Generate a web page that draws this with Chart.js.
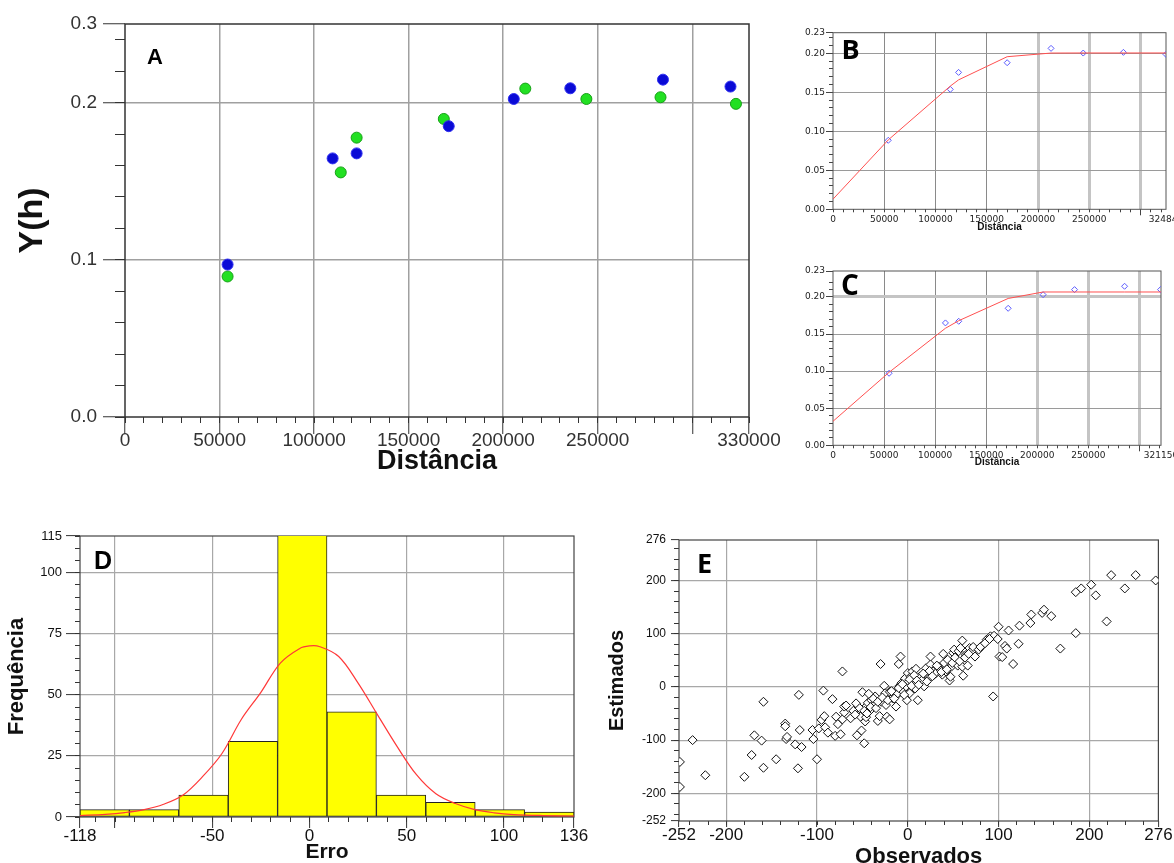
<!DOCTYPE html>
<html>
<head>
<meta charset="utf-8">
<script src="https://cdn.jsdelivr.net/npm/chart.js@4.4.1/dist/chart.umd.min.js"></script>
<style>
  body { margin: 0; background: #fff; }
  #pagina { position: relative; width: 1174px; height: 863px; overflow: hidden; background: #fff; }
  canvas { position: absolute; }
</style>
</head>
<body>
<div id="pagina">
  <canvas id="chartA" width="780" height="482" style="left:0px;top:0px"></canvas>
  <canvas id="chartB" width="394" height="214" style="left:780px;top:20px"></canvas>
  <canvas id="chartC" width="394" height="212" style="left:780px;top:258px"></canvas>
  <canvas id="chartD" width="592" height="343" style="left:0px;top:520px"></canvas>
  <canvas id="chartE" width="574" height="350" style="left:600px;top:520px"></canvas>
</div>
<script>
// ---- Painel A: semivariogramas experimentais
const distA_azul = [54250, 109800, 122500, 171200, 205600, 235500, 284500, 320200];
const gamaA_azul = [0.097, 0.1645, 0.1677, 0.185, 0.2023, 0.2091, 0.2146, 0.2102];
const distA_verde = [54250, 114100, 122500, 168600, 211700, 244000, 283200, 323100];
const gamaA_verde = [0.0894, 0.1556, 0.1777, 0.1896, 0.2089, 0.2023, 0.2034, 0.1992];
const ticksAx = [0, 50000, 100000, 150000, 200000, 250000, 300000, 330000];
const rotulosAx = ['0', '50000', '100000', '150000', '200000', '250000', '', '330000'];
const ticksAy = [0, 0.1, 0.2, 0.25];
const rotulosAy = ['0.0', '0.1', '0.2', '0.3'];

// ---- Painel B: experimental + modelo ajustado
const distB = [53900, 114400, 122500, 169900, 212700, 244100, 283300, 324840];
const gamaB = [0.0885, 0.1538, 0.1756, 0.188, 0.2064, 0.2004, 0.2013, 0.1987];
const distModeloB = [0, 53900, 114400, 122500, 169900, 212700, 244100, 283300, 324840];
const gamaModeloB = [0.013, 0.089, 0.158, 0.166, 0.1957, 0.2004, 0.2005, 0.2005, 0.2005];
const ticksBx = [0, 50000, 100000, 150000, 200000, 250000, 300000, 324840];
const rotulosBx = ['0', '50000', '100000', '150000', '200000', '250000', '', '324840'];
const ticksBy = [0, 0.05, 0.10, 0.15, 0.20, 0.2265];
const rotulosBy = ['0.00', '0.05', '0.10', '0.15', '0.20', '0.23'];

// ---- Painel C
const distC = [54900, 110100, 123100, 171500, 205700, 236500, 285500, 320700];
const gamaC = [0.0971, 0.165, 0.1672, 0.1847, 0.2031, 0.2099, 0.2144, 0.2099];
const distModeloC = [0, 54900, 110100, 123100, 171500, 205700, 236500, 285500, 321150];
const gamaModeloC = [0.0324, 0.0984, 0.1578, 0.168, 0.198, 0.2067, 0.2067, 0.2067, 0.2067];
const ticksCx = [0, 50000, 100000, 150000, 200000, 250000, 300000, 321150];
const rotulosCx = ['0', '50000', '100000', '150000', '200000', '250000', '', '321150'];
const ticksCy = [0, 0.05, 0.10, 0.15, 0.20, 0.235];
const rotulosCy = ['0.00', '0.05', '0.10', '0.15', '0.20', '0.23'];

// ---- Painel D: histograma dos erros (10 classes de -118 a 136)
const centrosD = [-105.3, -79.9, -54.5, -29.1, -3.7, 21.7, 47.1, 72.5, 97.9, 123.3];
const freqD = [3, 3, 9, 31, 118, 43, 9, 6, 3, 2];
const curvaDx = [-118, -105, -95, -85, -75, -65, -55, -45, -35, -25, -15, -5, 0, 5, 15, 25, 35, 45, 55, 65, 75, 85, 95, 105, 120, 136];
const curvaDy = [0.6, 1.1, 1.8, 3.0, 5.2, 9.0, 16.5, 26, 40, 51, 63, 69, 70, 69.8, 65.7, 54.8, 41.8, 28.9, 17.3, 9.5, 5.5, 3.0, 1.7, 1.0, 0.6, 0.4];
const ticksDx = [-118, -100, -50, 0, 50, 100, 136];
const rotulosDx = ['-118', '', '-50', '0', '50', '100', '136'];
const ticksDy = [0, 25, 50, 75, 100, 115];
const rotulosDy = ['0', '25', '50', '75', '100', '115'];

// ---- Painel E: observados x estimados
const obsE = [-251, -251, -237, -223, -180, -172, -169, -161, -159, -159, -145, -135, -135, -134, -133, -124, -121, -120, -119, -117,
  -105, -104, -100, -98, -95, -93, -92, -91, -88, -83, -80, -79, -77, -74, -72, -72, -70, -70, -68, -63,
  -57, -56, -55, -52, -51, -50, -48, -47, -46, -46, -44, -43, -42, -40, -37, -36, -33, -31, -30, -29,
  -26, -25, -24, -23, -20, -20, -17, -13, -13, -11, -10, -9, -8, -7, -7, -5, -3, -2, -1, 0,
  1, 2, 3, 5, 6, 8, 9, 11, 13, 14, 16, 18, 20, 23, 25, 25, 28, 29, 31, 34,
  36, 38, 39, 40, 42, 44, 46, 47, 48, 50, 51, 53, 55, 56, 58, 60, 60, 61, 64, 66,
  68, 70, 72, 74, 78, 83, 87, 91, 94, 95, 99, 100, 101, 104, 107, 109, 111, 116, 122, 123,
  135, 136, 148, 150, 158, 168, 185, 185, 191, 202, 207, 219, 224, 239, 251, 273,
  -60, -58, -53, -48, -45, -41, -38, -35, -33, -28, -22, -18, -15, -10, -6, -4, 2, 4, 7, 10,
  12, 17, 21, 24, 27, 32, 37, 43, 49, 52, 57, 63, 67, 80, 85, 90];
const estE = [-141, -188, -100, -166, -169, -128, -91, -101, -28, -152, -136, -69, -74, -98, -94, -108, -153, -15, -81, -113,
  -81, -98, -136, -78, -62, -7, -55, -76, -86, -23, -92, -56, -70, -89, 29, -61, -48, -37, -35, -59,
  -31, -91, -48, -56, -82, -10, -106, -65, -57, -37, -30, -13, -45, -25, -32, -18, -64, -55, 43, -28,
  2, -12, -34, -56, -61, -9, -21, -17, -37, -12, 43, 2, 57, -6, 7, -9, 16, 1, -25, 26,
  10, -12, 19, 29, 7, -3, 34, -25, 19, 7, 13, 1, 35, 16, 42, 57, 29, 23, 26, 38,
  32, 23, 62, 45, 29, 51, 12, 19, 38, 64, 70, 45, 40, 67, 73, 38, 87, 21, 60, 40,
  73, 67, 75, 57, 70, 79, 89, 95, -18, 96, 90, 113, 57, 56, 77, 72, 106, 43, 81, 115,
  120, 136, 139, 145, 133, 72, 101, 178, 185, 192, 172, 123, 210, 185, 210, 200,
  -45, -52, -40, -45, -50, -38, -22, -40, -28, -20, -25, -8, -22, -2, 5, -15, 14, 2, 22, 12,
  4, 25, 10, 30, 20, 40, 28, 33, 45, 55, 48, 55, 62, 75, 82, 90];
const ticksE = [-252, -200, -100, 0, 100, 200, 276];
const rotulosE = ['-252', '-200', '-100', '0', '100', '200', '276'];

const SANS = "'Liberation Sans', Arial, sans-serif";
const CALIBRI = "'Open Sans', 'Liberation Sans', sans-serif";
const TRANSP = 'rgba(0,0,0,0)';

function pontos(xs, ys) {
    return xs.map((x, i) => ({ x: x, y: ys[i] }));
}

function faixa(a, b, passo) {
    const out = [];
    for (let v = a; v <= b + passo * 1e-6; v += passo) out.push(+v.toFixed(6));
    return out;
}

// eixo principal externo (rótulos, grade, título) + eixo interno de espessura zero (ticks menores)
function parDeEixos(o) {
    const horiz = o.position === 'bottom';
    const semPadding = s => { s.paddingLeft = 0; s.paddingRight = 0; s.paddingTop = 0; s.paddingBottom = 0; };
    const naGrade = c => c.tick && o.gridAt.includes(c.tick.value);
    const principal = {
        type: 'linear', position: o.position, min: o.min, max: o.max, weight: 1, offset: false,
        afterBuildTicks: s => { s.ticks = o.values.map(v => ({ value: v })); },
        afterFit: s => { if (horiz) s.height = o.size; else s.width = o.size; semPadding(s); },
        border: { display: false },
        grid: {
            offset: false, drawOnChartArea: true, drawTicks: true, tickLength: o.majorLen,
            color: c => naGrade(c) ? (o.gridColorAt ? o.gridColorAt(c.tick.value) : o.gridColor) : TRANSP,
            lineWidth: c => (naGrade(c) && o.gridWidthAt) ? o.gridWidthAt(c.tick.value) : o.gridWidth,
            tickColor: c => (o.allTicks || o.labels[c.index] === '') ? o.tickColor : TRANSP,
            tickWidth: 1
        },
        ticks: {
            autoSkip: false, maxRotation: 0, minRotation: 0, padding: o.pad,
            color: o.labelColor, font: o.font,
            callback: (v, i) => o.labels[i]
        },
        title: o.title
    };
    const menor = {
        type: 'linear', position: o.position, min: o.min, max: o.max, weight: 0, offset: false,
        afterBuildTicks: s => { s.ticks = o.minor.map(v => ({ value: v })); },
        afterFit: s => { if (horiz) s.height = 0; else s.width = 0; semPadding(s); },
        border: { display: false },
        grid: { offset: false, drawOnChartArea: false, drawTicks: true, tickLength: o.minorLen, tickColor: o.tickColor, tickWidth: 1 },
        ticks: { display: false, autoSkip: false }
    };
    return [principal, menor];
}

// moldura da área do gráfico e letra do painel
const moldura = {
    id: 'moldura',
    beforeDatasetsDraw(chart, args, opts) {
        const { ctx, chartArea: a } = chart;
        ctx.save();
        ctx.strokeStyle = opts.color;
        ctx.lineWidth = opts.width;
        ctx.strokeRect(a.left, a.top, a.right - a.left, a.bottom - a.top);
        ctx.restore();
    },
    afterDraw(chart, args, opts) {
        const { ctx, chartArea: a } = chart;
        ctx.save();
        ctx.font = opts.letterFont;
        ctx.fillStyle = '#000';
        ctx.textAlign = 'center';
        ctx.textBaseline = 'middle';
        ctx.fillText(opts.letter, a.left + opts.dx, a.top + opts.dy);
        ctx.restore();
    }
};

function opcoes(padding, scales, molduraOpts) {
    return {
        responsive: false,
        animation: false,
        devicePixelRatio: 1,
        layout: { padding: padding },
        scales: scales,
        plugins: { legend: { display: false }, tooltip: { enabled: false }, moldura: molduraOpts }
    };
}

// ---------------- A
(function () {
    const [x, xm] = parDeEixos({
        position: 'bottom', min: 0, max: 330000, values: ticksAx, labels: rotulosAx,
        minor: faixa(0, 330000, 10000), size: 58.5, majorLen: 17, minorLen: 6, pad: -3, allTicks: true,
        gridAt: [50000, 100000, 150000, 200000, 250000, 300000], gridColor: '#a0a0a0', gridWidth: 1.5,
        tickColor: '#333', labelColor: '#333', font: { family: SANS, size: 19, lineHeight: 1 },
        title: { display: true, text: 'Distância', color: '#111', padding: { top: 0, bottom: 0 },
            font: { family: SANS, size: 27, weight: 'bold', lineHeight: 1 } }
    });
    const [y, ym] = parDeEixos({
        position: 'left', min: 0, max: 0.25, values: ticksAy, labels: rotulosAy,
        minor: faixa(0, 0.24, 0.02), size: 125, majorLen: 22, minorLen: 10, pad: 6, allTicks: true,
        gridAt: [0.1, 0.2], gridColor: '#a0a0a0', gridWidth: 1.5,
        tickColor: '#333', labelColor: '#333', font: { family: SANS, size: 19, lineHeight: 1 },
        title: { display: true, text: 'Y(h)', color: '#111', padding: { top: 16, bottom: 0 },
            font: { family: SANS, size: 34, weight: 'bold', lineHeight: 1 } }
    });
    new Chart(document.getElementById('chartA'), {
        type: 'scatter',
        data: {
            datasets: [
                { data: pontos(distA_azul, gamaA_azul), pointRadius: 5.5, backgroundColor: '#0a0ad6', borderColor: '#3030f0', borderWidth: 1 },
                { data: pontos(distA_verde, gamaA_verde), pointRadius: 5.5, backgroundColor: '#22e022', borderColor: '#16a016', borderWidth: 1 }
            ]
        },
        options: opcoes({ left: 0, top: 24, right: 31, bottom: 6.5 }, { x: x, xm: xm, y: y, ym: ym },
            { color: '#333', width: 1.5, letter: 'A', dx: 30, dy: 34, letterFont: 'bold 22px ' + SANS }),
        plugins: [moldura]
    });
})();

// ---------------- B e C (mesmo estilo)
function painelVariograma(id, dist, gama, distMod, gamaMod, tx, rx, ty, ry, xmax, ymax, pad, xSize, letra, ldx, ldy, lsize) {
    const grossa = v => v >= 200000;
    const [x, xm] = parDeEixos({
        position: 'bottom', min: 0, max: xmax, values: tx, labels: rx,
        minor: faixa(0, xmax, 10000), size: xSize, majorLen: 6, minorLen: 3, pad: -0.5,
        gridAt: [50000, 100000, 150000, 200000, 250000, 300000],
        gridColorAt: v => grossa(v) ? '#c4c4c4' : '#8a8a8a', gridWidthAt: v => grossa(v) ? 3 : 1, gridWidth: 1,
        tickColor: '#444', labelColor: '#222', font: { family: "'DejaVu Sans', sans-serif", size: 9, lineHeight: 1 },
        title: { display: true, text: 'Distância', color: '#111', padding: { top: 0, bottom: 0 },
            font: { family: SANS, size: 10, weight: 'bold', lineHeight: 1 } }
    });
    const [y, ym] = parDeEixos({
        position: 'left', min: 0, max: ymax, values: ty, labels: ry,
        minor: faixa(0, 0.22, 0.01), size: 53, majorLen: 7, minorLen: 4, pad: 1, allTicks: true,
        gridAt: [0.05, 0.10, 0.15, 0.20],
        gridColorAt: v => (id === 'chartC' && v === 0.20) ? '#c4c4c4' : '#9a9a9a',
        gridWidthAt: v => (id === 'chartC' && v === 0.20) ? 3 : 1, gridWidth: 1,
        tickColor: '#444', labelColor: '#222', font: { family: "'DejaVu Sans', sans-serif", size: 9, lineHeight: 1 },
        title: { display: false }
    });
    new Chart(document.getElementById(id), {
        type: 'scatter',
        data: {
            datasets: [
                { data: pontos(distMod, gamaMod), showLine: true, pointRadius: 0, borderColor: '#ff5050', borderWidth: 1, tension: 0 },
                { data: pontos(dist, gama), pointStyle: 'rectRot', pointRadius: 3, borderColor: '#5a5aff', backgroundColor: TRANSP, borderWidth: 1 }
            ]
        },
        options: opcoes(pad, { x: x, xm: xm, y: y, ym: ym },
            { color: '#555', width: 1, letter: letra, dx: ldx, dy: ldy, letterFont: 'bold ' + lsize + 'px ' + CALIBRI }),
        plugins: [moldura]
    });
}

painelVariograma('chartB', distB, gamaB, distModeloB, gamaModeloB, ticksBx, rotulosBx, ticksBy, rotulosBy,
    324840, 0.2265, { left: 0, top: 12.7, right: 8, bottom: 1.7 }, 23, 'B', 17.5, 19, 27);
painelVariograma('chartC', distC, gamaC, distModeloC, gamaModeloC, ticksCx, rotulosCx, ticksCy, rotulosCy,
    321150, 0.235, { left: 0, top: 13, right: 13, bottom: 2.3 }, 22.4, 'C', 17, 16.5, 28);

// ---------------- D
(function () {
    const [x, xm] = parDeEixos({
        position: 'bottom', min: -118, max: 136, values: ticksDx, labels: rotulosDx,
        minor: faixa(-110, 130, 10), size: 45.5, majorLen: 11, minorLen: 5, pad: 0, allTicks: true,
        gridAt: [-100, -50, 0, 50, 100], gridColor: '#a8a8a8', gridWidth: 1.2,
        tickColor: '#333', labelColor: '#111', font: { family: SANS, size: 17, lineHeight: 1 },
        title: { display: true, text: 'Erro', color: '#111', padding: { top: 0, bottom: 0 },
            font: { family: SANS, size: 21, weight: 'bold', lineHeight: 1 } }
    });
    const [y, ym] = parDeEixos({
        position: 'left', min: 0, max: 115, values: ticksDy, labels: rotulosDy,
        minor: faixa(0, 115, 5), size: 80, majorLen: 14, minorLen: 5, pad: 4, allTicks: true,
        gridAt: [25, 50, 75, 100], gridColor: '#a8a8a8', gridWidth: 1.2,
        tickColor: '#333', labelColor: '#111', font: { family: SANS, size: 13, lineHeight: 1 },
        title: { display: true, text: 'Frequência', color: '#111', padding: { top: 6, bottom: 0 },
            font: { family: SANS, size: 22, weight: 'bold', lineHeight: 1 } }
    });
    new Chart(document.getElementById('chartD'), {
        type: 'bar',
        data: {
            datasets: [
                { type: 'line', data: pontos(curvaDx, curvaDy), order: 0, borderColor: '#ff3838', borderWidth: 1.2,
                  pointRadius: 0, tension: 0.35, fill: false },
                // largura "flex": cada barra ocupa a classe inteira entre as vizinhas
                { type: 'bar', data: pontos(centrosD, freqD), order: 1, backgroundColor: '#ffff00', borderColor: '#222',
                  borderWidth: 1, borderSkipped: false, barThickness: 'flex', barPercentage: 1, categoryPercentage: 1 }
            ]
        },
        options: opcoes({ left: 0, top: 16, right: 18, bottom: 0.5 }, { x: x, xm: xm, y: y, ym: ym },
            { color: '#444', width: 1.2, letter: 'D', dx: 23, dy: 26.5, letterFont: 'bold 25px ' + SANS }),
        plugins: [moldura]
    });
})();

// ---------------- E
(function () {
    const [x, xm] = parDeEixos({
        position: 'bottom', min: -252, max: 276, values: ticksE, labels: rotulosE,
        minor: faixa(-240, 260, 20), size: 46.7, majorLen: 6, minorLen: 4, pad: 0, allTicks: true,
        gridAt: [-200, -100, 0, 100, 200], gridColor: '#a8a8a8', gridWidth: 1.2,
        tickColor: '#333', labelColor: '#111', font: { family: SANS, size: 17, lineHeight: 1 },
        title: { display: true, text: 'Observados', color: '#111', padding: { top: 0, bottom: 0 },
            font: { family: SANS, size: 22, weight: 'bold', lineHeight: 1 } }
    });
    const [y, ym] = parDeEixos({
        position: 'left', min: -252, max: 276, values: ticksE, labels: rotulosE,
        minor: faixa(-240, 260, 20), size: 79, majorLen: 8, minorLen: 5, pad: 5, allTicks: true,
        gridAt: [-200, -100, 0, 100, 200], gridColor: '#a8a8a8', gridWidth: 1.2,
        tickColor: '#333', labelColor: '#111', font: { family: SANS, size: 12, lineHeight: 1 },
        title: { display: true, text: 'Estimados', color: '#111', padding: { top: 7, bottom: 0 },
            font: { family: SANS, size: 20, weight: 'bold', lineHeight: 1 } }
    });
    new Chart(document.getElementById('chartE'), {
        type: 'scatter',
        data: {
            datasets: [
                { data: pontos(obsE, estE), pointStyle: 'rectRot', pointRadius: 4.5, borderColor: '#111',
                  backgroundColor: '#fff', borderWidth: 1 }
            ]
        },
        options: opcoes({ left: 0, top: 20, right: 15.6, bottom: 2.3 }, { x: x, xm: xm, y: y, ym: ym },
            { color: '#444', width: 1.2, letter: 'E', dx: 25.5, dy: 25, letterFont: 'bold 27px ' + CALIBRI }),
        plugins: [moldura]
    });
})();
</script>
</body>
</html>
